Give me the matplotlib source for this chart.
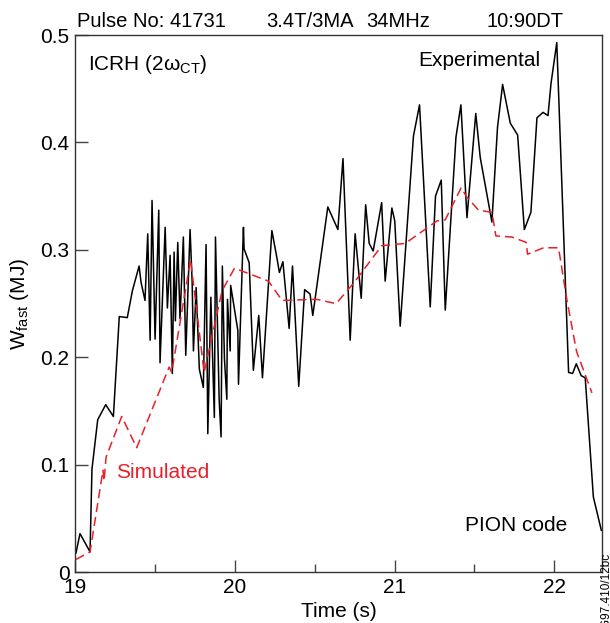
import matplotlib
matplotlib.use("Agg")
import matplotlib.pyplot as plt
from matplotlib.ticker import MultipleLocator

plt.rcParams['font.family'] = ['Liberation Sans', 'DejaVu Sans']
plt.rcParams['mathtext.fontset'] = 'custom'
plt.rcParams['mathtext.rm'] = 'Liberation Sans'
plt.rcParams['mathtext.it'] = 'Liberation Sans:italic'

# experimental fast ion energy
t_exp = [19.006, 19.031, 19.094, 19.106, 19.142, 19.192, 19.240, 19.277, 19.327, 19.359,
         19.401, 19.413, 19.438, 19.455, 19.470, 19.482, 19.501, 19.524, 19.532, 19.564,
         19.578, 19.595, 19.609, 19.620, 19.628, 19.643, 19.657, 19.678, 19.693, 19.720,
         19.733, 19.741, 19.758, 19.778, 19.803, 19.820, 19.831, 19.850, 19.872, 19.879,
         19.902, 19.914, 19.922, 19.935, 19.950, 19.954, 19.971, 19.974, 20.019, 20.023,
         20.054, 20.058, 20.090, 20.116, 20.150, 20.173, 20.232, 20.263, 20.279, 20.301,
         20.340, 20.361, 20.400, 20.437, 20.471, 20.488, 20.582, 20.645, 20.677, 20.722,
         20.753, 20.791, 20.819, 20.841, 20.866, 20.919, 20.941, 20.983, 21.001, 21.035,
         21.118, 21.156, 21.223, 21.256, 21.292, 21.317, 21.384, 21.415, 21.453, 21.508,
         21.536, 21.609, 21.644, 21.676, 21.724, 21.770, 21.812, 21.853, 21.891, 21.929,
         21.960, 21.979, 22.015, 22.089, 22.114, 22.137, 22.168, 22.193, 22.244, 22.294]
w_exp = [0.018, 0.036, 0.019, 0.096, 0.142, 0.156, 0.145, 0.238, 0.237, 0.262,
         0.285, 0.270, 0.253, 0.315, 0.216, 0.346, 0.217, 0.337, 0.195, 0.321,
         0.246, 0.295, 0.185, 0.298, 0.234, 0.307, 0.236, 0.312, 0.202, 0.319,
         0.270, 0.206, 0.265, 0.189, 0.172, 0.305, 0.129, 0.256, 0.144, 0.312,
         0.161, 0.126, 0.285, 0.199, 0.161, 0.254, 0.206, 0.267, 0.225, 0.175,
         0.321, 0.301, 0.288, 0.188, 0.239, 0.181, 0.318, 0.293, 0.279, 0.289,
         0.227, 0.285, 0.173, 0.263, 0.259, 0.239, 0.340, 0.319, 0.385, 0.216,
         0.315, 0.255, 0.342, 0.306, 0.299, 0.344, 0.271, 0.339, 0.327, 0.229,
         0.406, 0.435, 0.247, 0.350, 0.365, 0.244, 0.405, 0.435, 0.330, 0.427,
         0.386, 0.326, 0.414, 0.454, 0.418, 0.407, 0.319, 0.335, 0.423, 0.428,
         0.425, 0.455, 0.493, 0.186, 0.185, 0.194, 0.183, 0.181, 0.070, 0.039]

# PION simulation
t_sim = [19.006, 19.094, 19.175, 19.182, 19.194, 19.292, 19.386, 19.589, 19.605, 19.723,
         19.808, 19.920, 19.998, 20.210, 20.296, 20.513, 20.634, 20.743, 20.920, 21.066,
         21.265, 21.317, 21.417, 21.448, 21.525, 21.609, 21.634, 21.734, 21.824, 21.832,
         21.932, 22.026, 22.079, 22.133, 22.140, 22.235]
w_sim = [0.012, 0.019, 0.095, 0.085, 0.107, 0.145, 0.116, 0.191, 0.186, 0.291,
         0.186, 0.262, 0.283, 0.271, 0.253, 0.254, 0.250, 0.269, 0.304, 0.306,
         0.327, 0.328, 0.358, 0.350, 0.337, 0.335, 0.313, 0.312, 0.307, 0.296,
         0.302, 0.302, 0.253, 0.210, 0.205, 0.167]

fig = plt.figure(figsize=(6.1, 6.23), dpi=100)
ax = fig.add_axes([0.1230, 0.0814, 0.8644, 0.8624])

ax.plot(t_exp, w_exp, color='black', lw=1.1)
ax.plot(t_sim, w_sim, color='#e8202a', lw=1.1, dashes=(6, 3.2))

ax.set_xlim(19, 22.30)
ax.set_ylim(0, 0.5)
ax.set_xticks([19, 20, 21, 22])
ax.xaxis.set_minor_locator(MultipleLocator(0.5))
ax.set_yticks([0, 0.1, 0.2, 0.3, 0.4, 0.5])
ax.set_yticklabels(['0', '0.1', '0.2', '0.3', '0.4', '0.5'])
ax.tick_params(which='major', direction='in', length=9, width=1, color='#444', labelsize=15, pad=4)
ax.tick_params(which='minor', direction='in', length=5.5, width=1, color='#444')
ax.tick_params(axis='y', which='minor', left=False)
for s in ax.spines.values():
    s.set_color('#333')
    s.set_linewidth(1)

ax.set_ylabel('W$_{\\mathrm{fast}}$ (MJ)', fontsize=15)
ax.yaxis.set_label_coords(-0.083, 0.5)
ax.set_xlabel('Time (s)', fontsize=15)
ax.xaxis.set_label_coords(0.5, -0.056)

ax.text(19.08, 0.473, 'ICRH (2ω$_{\\mathrm{CT}}$)', fontsize=15, ha='left', va='center')
ax.text(21.912, 0.4766, 'Experimental', fontsize=15, ha='right', va='center')
ax.text(19.257, 0.0933, 'Simulated', fontsize=15, ha='left', va='center', color='#e8202a')
ax.text(22.081, 0.044, 'PION code', fontsize=15, ha='right', va='center')

top = 1 - 27 / 623
fig.text(77 / 610, top, 'Pulse No: 41731', fontsize=14.5, ha='left', va='baseline')
fig.text(266 / 610, top, '3.4T/3MA', fontsize=14.5, ha='left', va='baseline')
fig.text(366 / 610, top, '34MHz', fontsize=14.5, ha='left', va='baseline')
fig.text(487 / 610, top, '10:90DT', fontsize=14.5, ha='left', va='baseline')
fig.text(607 / 610, 1 - 553 / 623, 'JG97.410/12bc', fontsize=8.5, rotation=90,
         ha='center', va='top')

fig.savefig('out.png', dpi=100)
